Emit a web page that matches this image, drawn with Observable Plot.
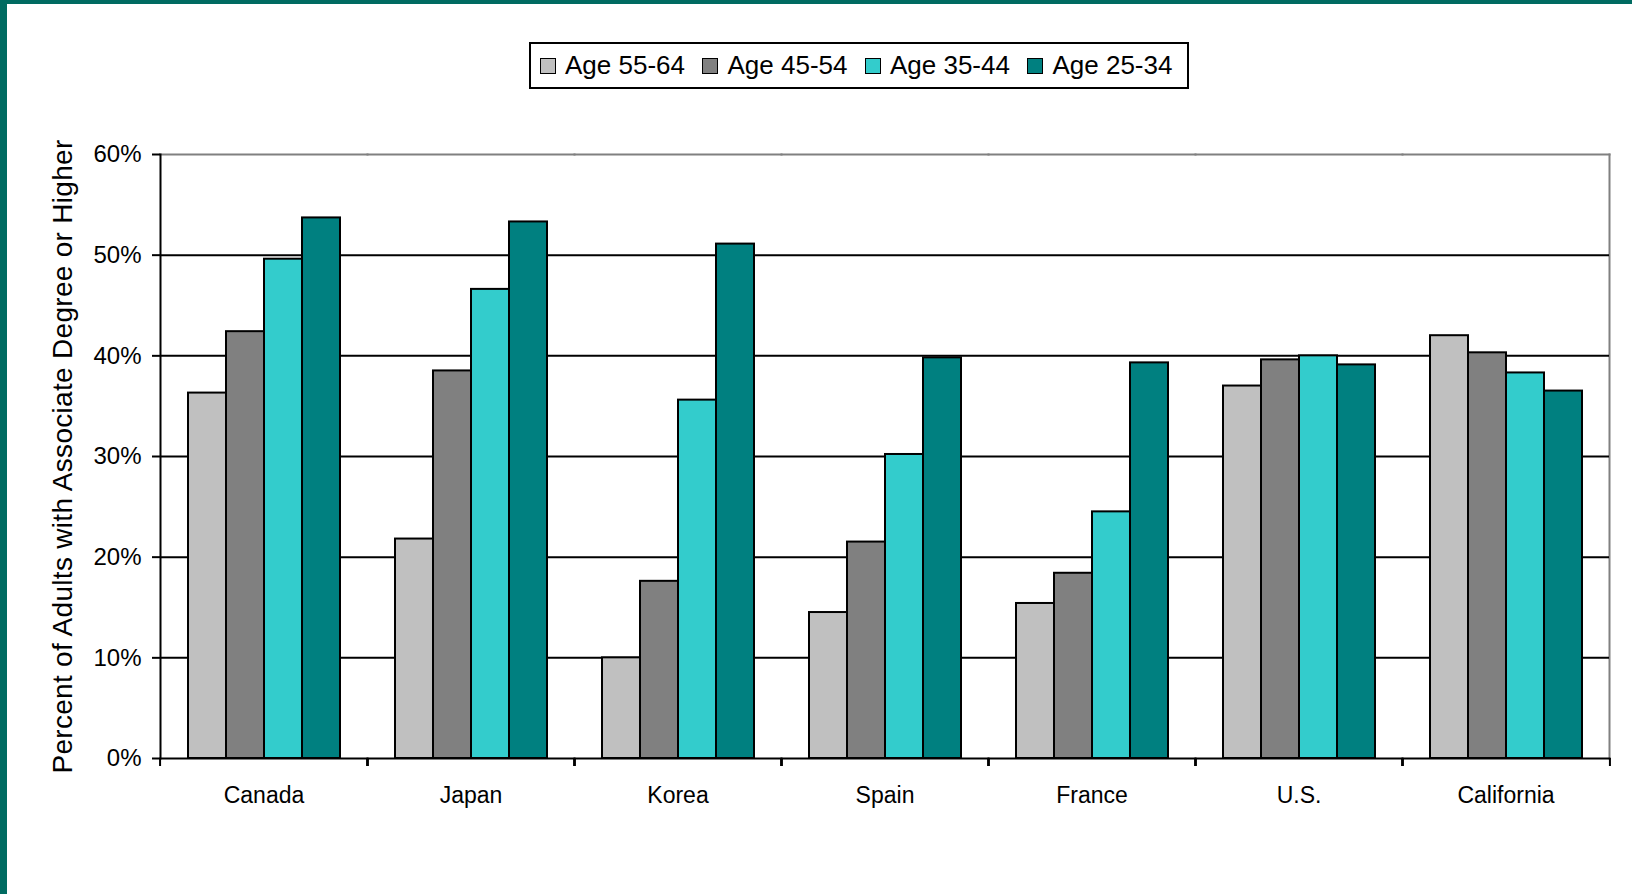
<!DOCTYPE html>
<html>
<head>
<meta charset="utf-8">
<script src="https://cdn.jsdelivr.net/npm/d3@7"></script>
<script src="https://cdn.jsdelivr.net/npm/@observablehq/plot@0.6"></script>
<style>
  html, body { margin: 0; padding: 0; background: #fff; }
  body { font-family: "Liberation Sans", Arial, sans-serif; }
  #wrap { position: relative; width: 1632px; height: 894px; overflow: hidden; background: #fff; }
  #chart { position: absolute; left: 0; top: 0; }
  #borderLeft { position: absolute; left: 0; top: 0; width: 7px; height: 894px; background: #006B61; }
  #borderTop { position: absolute; left: 0; top: 0; width: 1632px; height: 4px; background: #006B61; }
  #legend {
    position: absolute; left: 529px; top: 42px; width: 647px; height: 43px;
    border: 2px solid #000; background: #fff;
    display: flex; align-items: center; box-sizing: content-box;
    font-size: 26px; color: #000; padding-left: 9px;
  }
  .item { display: flex; align-items: center; margin-right: 17.5px; white-space: nowrap; }
  .sw { width: 14px; height: 14px; border: 1.5px solid #000; margin-right: 9px; }
</style>
</head>
<body>
<div id="wrap">
  <div id="chart"></div>
  <div id="legend"></div>
  <div id="borderLeft"></div>
  <div id="borderTop"></div>
</div>
<script>
// ---- data ----
const countries = ["Canada", "Japan", "Korea", "Spain", "France", "U.S.", "California"];
const ages = ["Age 55-64", "Age 45-54", "Age 35-44", "Age 25-34"];
const colors = ["#C0C0C0", "#808080", "#33CCCC", "#008080"];
const age5564 = [36.3, 21.8, 10.0, 14.5, 15.4, 37.0, 42.0];
const age4554 = [42.4, 38.5, 17.6, 21.5, 18.4, 39.6, 40.3];
const age3544 = [49.6, 46.6, 35.6, 30.2, 24.5, 40.0, 38.3];
const age2534 = [53.7, 53.3, 51.1, 39.8, 39.3, 39.1, 36.5];
const yTicks = [0, 10, 20, 30, 40, 50, 60];
const gridTicks = [10, 20, 30, 40, 50];
const yLabel = "Percent of Adults with Associate Degree or Higher";

const series = [age5564, age4554, age3544, age2534];
const data = [];
countries.forEach((c, i) => {
  ages.forEach((a, j) => data.push({country: c, age: a, value: series[j][i]}));
});

// ---- layout ----
const W = 1632, H = 894;
const mL = 157, mR = 20, mT = 154, mB = 136;
const facetW = (W - mL - mR) / countries.length;
const font = '"Liberation Sans", Arial, sans-serif';

const plot = Plot.plot({
  width: W, height: H,
  marginLeft: mL, marginRight: mR, marginTop: mT, marginBottom: mB,
  style: {fontFamily: font, color: "#000", background: "transparent", overflow: "visible"},
  fx: {domain: countries, padding: 0, axis: null},
  x: {domain: ages, paddingOuter: 0.72, paddingInner: 0, axis: null},
  y: {domain: [0, 60], axis: null},
  color: {domain: ages, range: colors},
  marks: [
    Plot.frame({anchor: "top", stroke: "#808080", strokeWidth: 2}),
    Plot.frame({anchor: "right", facetAnchor: "right", stroke: "#808080", strokeWidth: 2}),
    Plot.ruleY(gridTicks, {stroke: "#000", strokeWidth: 2}),
    Plot.barY(data, {fx: "country", x: "age", y: "value", fill: "age", stroke: "#000", strokeWidth: 2}),
    Plot.frame({anchor: "bottom", stroke: "#000", strokeWidth: 2}),
    Plot.frame({anchor: "left", facetAnchor: "left", stroke: "#000", strokeWidth: 2}),
    Plot.axisY(yTicks, {anchor: "left", tickSize: 8, tickPadding: 11, fontSize: 24, strokeWidth: 2,
      tickFormat: d => d + "%", label: null}),
    Plot.text([yLabel], {frameAnchor: "left", textAnchor: "middle", lineAnchor: "middle", rotate: -90,
      dx: -97, fontSize: 28, facetAnchor: "left", fill: "#000"}),
    Plot.axisFx({anchor: "bottom", tickSize: 0, tickPadding: 28, fontSize: 23, label: null}),
    Plot.axisFx({anchor: "bottom", tickSize: 8, strokeWidth: 2, dx: -facetW / 2, tickFormat: () => "", label: null}),
    Plot.axisFx([countries[countries.length - 1]], {anchor: "bottom", tickSize: 8, strokeWidth: 2, dx: facetW / 2, tickFormat: () => "", label: null})
  ]
});
document.getElementById("chart").appendChild(plot);
d3.select(plot).selectAll("text").filter(function() { return this.textContent === yLabel; })
  .style("letter-spacing", "0.3px");

// ---- legend ----
const legend = d3.select("#legend");
ages.forEach((a, i) => {
  const it = legend.append("div").attr("class", "item");
  it.append("div").attr("class", "sw").style("background", colors[i]);
  it.append("span").text(a);
});
</script>
</body>
</html>
